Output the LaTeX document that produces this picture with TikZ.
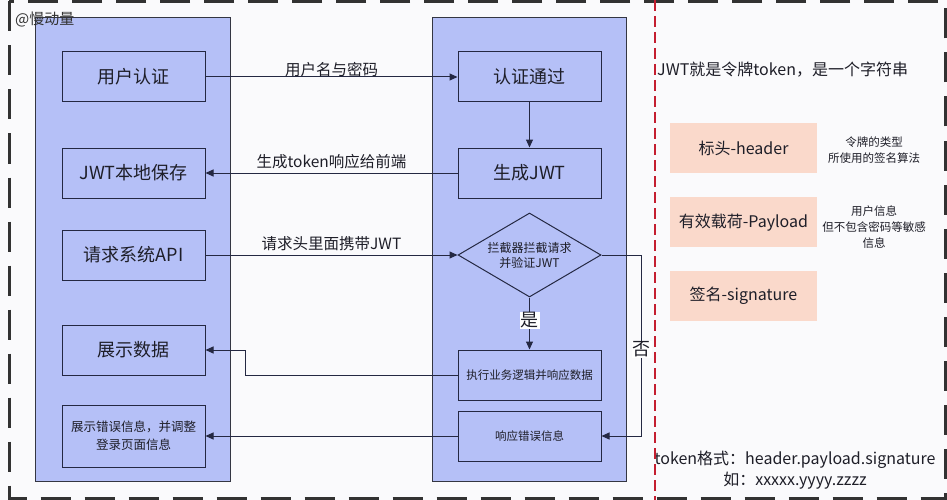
\documentclass[tikz,border=0pt]{standalone}
\usepackage{fontspec}
\setmainfont{Noto Sans CJK SC}
\usepackage{xcolor}
\usetikzlibrary{arrows.meta, positioning, shapes.geometric, fit, calc, backgrounds}
\definecolor{lanefill}{RGB}{181, 192, 247}
\definecolor{laneink}{RGB}{52, 54, 66}
\definecolor{lineink}{RGB}{36, 40, 66}
\definecolor{textink}{RGB}{30, 30, 40}
\definecolor{partfill}{RGB}{250, 217, 203}
\definecolor{cutred}{RGB}{196, 30, 48}
\definecolor{frameink}{RGB}{50, 50, 50}
\definecolor{paper}{RGB}{250, 250, 252}

\begin{document}
\begin{tikzpicture}[
    x=1pt, y=1pt,
    node distance=20pt,
    stepbox/.style={draw=lineink, line width=1pt, fill=lanefill, minimum width=143pt, minimum height=50pt, inner sep=2pt, align=center, text=textink, font=\fontsize{18}{21}\selectfont},
    smallbox/.style={stepbox, font=\fontsize{11.5}{15}\selectfont},
    decide/.style={diamond, draw=lineink, line width=1pt, fill=lanefill, minimum width=143pt, minimum height=84pt, inner sep=0pt, aspect=1.7, align=center, text=textink, font=\fontsize{12}{15}\selectfont},
    lane/.style={draw=laneink, line width=1.5pt, fill=lanefill, inner sep=0pt},
    part/.style={fill=partfill, minimum width=147pt, minimum height=50pt, text=textink, font=\fontsize{16}{19}\selectfont},
    note/.style={align=center, text=textink, font=\fontsize{11.5}{16}\selectfont},
    flow/.style={-{Triangle[length=8pt, width=7pt]}, line width=1pt, draw=lineink},
    tag/.style={anchor=base, inner sep=0pt, text=textink, font=\fontsize{15.5}{18}\selectfont},
    yesno/.style={fill=white, inner sep=1pt, text=textink, font=\fontsize{18}{20}\selectfont},
    frame/.style={draw=frameink, line width=3pt, dash pattern=on 30pt off 14pt},
    cut/.style={draw=cutred, line width=2pt, dash pattern=on 11pt off 5pt},
]
\useasboundingbox (0,0) rectangle (947,-500);

% Client side
\node[stepbox] (auth) at (133.5,-77) {用户认证};
\node[stepbox, below=45pt of auth] (save) {JWT本地保存};
\node[stepbox, below=31pt of save] (api) {请求系统API};
\node[stepbox, below=44pt of api] (show) {展示数据};
\node[smallbox, font=\fontsize{12.5}{18}\selectfont, minimum height=62pt, below=29pt of show] (fail) {展示错误信息，并调整\\登录页面信息};

% Server side
\node[stepbox, right=252pt of auth] (pass) {认证通过};
\node[stepbox, right=252pt of save] (gen) {生成JWT};
\node[decide, right=252pt of api] (check) {拦截器拦截请求\\并验证JWT};
\node[smallbox, below=52pt of check] (exec) {执行业务逻辑并响应数据};
\node[smallbox, below=10pt of exec] (reply) {响应错误信息};

\begin{scope}[on background layer]
\fill[paper] (0,0) rectangle (947,-500);
\node[lane, fit={($(auth.north west)+(-26,34)$) ($(fail.south east)+(25,-14)$)}] (client) {};
\node[lane, fit={($(pass.north west)+(-25,34)$) ($(reply.south east)+(25,-20)$)}] (server) {};
\end{scope}

% Flow
\draw[flow] (auth) -- node[tag, yshift=1pt] {用户名与密码} (pass);
\draw[flow] (pass) -- (gen);
\draw[flow] (gen) -- node[tag, yshift=6pt] {生成token响应给前端} (save);
\draw[flow] (api) -- node[tag, yshift=6pt] {请求头里面携带JWT} (check);
\draw[flow] (check) -- node[yesno, yshift=3pt] {是} (exec);
\draw[flow] (check.east) -- ++(40,0) |- node[yesno, pos=0.25, yshift=-4pt] {否} (reply);
\draw[flow] (exec) -| ([xshift=40pt]show.east) -- (show);
\draw[flow] (reply) -- (fail);

% JWT parts
\node[anchor=west, inner sep=0pt, text=textink, font=\fontsize{16}{19}\selectfont] (jwtdef) at (657,-70) {JWT就是令牌token，是一个字符串};
\node[part] (header) at (743.5,-148) {标头-header};
\node[part, below=24pt of header] (payload) {有效载荷-Payload};
\node[part, below=23pt of payload] (sign) {签名-signature};
\node[note] (headernote) at ([xshift=57pt, yshift=-2pt]header.east) {令牌的类型\\所使用的签名算法};
\node[note] (payloadnote) at ([xshift=57pt, yshift=-5pt]payload.east) {用户信息\\但不包含密码等敏感\\信息};
\node[align=center, text=textink, font=\fontsize{16}{21}\selectfont] (format) at (795,-470) {token格式：header.payload.signature\\如：xxxxx.yyyy.zzzz};

% Frame
\node[anchor=west, inner sep=0pt, text=frameink, font=\fontsize{15}{17}\selectfont] (author) at (15,-19) {@慢动量};
\draw[frame] (9,-1.5) rectangle (945,-498);
\draw[cut] (655,0) -- (655,-500);

\end{tikzpicture}
\end{document}
